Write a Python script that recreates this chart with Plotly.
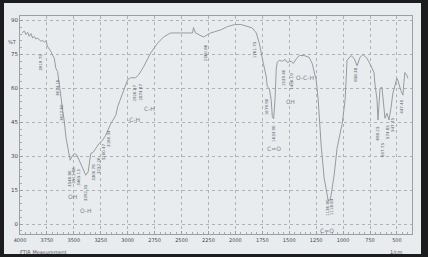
import plotly.graph_objects as go

# Spectrum trace (wavenumber cm-1, %T)
wavenumber = [3981, 3960, 3944, 3929, 3914, 3898, 3883, 3867, 3852, 3836, 3806, 3790, 3775, 3759,
              3744, 3728, 3713, 3682, 3667, 3651, 3636, 3620, 3605, 3590, 3574, 3552, 3534, 3519,
              3497, 3472, 3451, 3420, 3389, 3367, 3343, 3318, 3287, 3266, 3234, 3204, 3157, 3111,
              3093, 3046, 3000, 2972, 2926, 2898, 2852, 2787, 2722, 2667, 2602, 2509, 2398, 2389,
              2370, 2296, 2231, 2194, 2130, 2074, 2009, 1944, 1889, 1843, 1806, 1778, 1750, 1713,
              1704, 1685, 1667, 1657, 1645, 1632, 1620, 1611, 1593, 1565, 1537, 1519, 1481, 1463,
              1435, 1407, 1361, 1315, 1287, 1250, 1231, 1213, 1204, 1176, 1148, 1139, 1120, 1111,
              1083, 1056, 1019, 1009, 981, 972, 963, 926, 898, 870, 843, 815, 778, 741, 713, 704,
              685, 676, 667, 657, 639, 620, 611, 593, 574, 556, 537, 500, 491, 463, 444, 435, 426,
              407, 398]
transmittance = [84.6, 85.3, 83.8, 84.8, 83.0, 84.2, 82.3, 83.0, 81.8, 82.3, 80.8, 81.2, 80.5, 81.0,
                 78.5, 77.3, 76.3, 73.3, 68.9, 67.4, 63.0, 56.4, 50.5, 46.0, 38.5, 32.7, 28.2, 29.7,
                 31.2, 30.5, 28.2, 24.6, 21.6, 23.1, 31.2, 31.9, 34.4, 35.6, 37.0, 39.3, 44.4, 48.0,
                 51.9, 58.0, 63.9, 64.7, 64.7, 66.0, 69.6, 75.6, 80.0, 82.7, 84.5, 84.5, 84.5, 86.9,
                 84.5, 82.7, 84.5, 85.0, 86.0, 87.3, 88.2, 88.2, 87.4, 86.7, 84.5, 80.0, 73.3, 65.0,
                 60.7, 60.0, 54.7, 47.5, 46.5, 55.0, 69.0, 71.5, 72.4, 72.0, 72.8, 71.5, 72.0, 71.0,
                 73.0, 74.5, 74.5, 73.7, 71.0, 63.8, 55.0, 41.6, 35.0, 20.4, 11.5, 10.6, 10.6, 12.8,
                 21.6, 33.5, 42.0, 44.0, 55.0, 63.8, 72.4, 74.5, 73.3, 70.0, 73.7, 75.0, 73.3, 70.0,
                 67.0, 62.0, 55.0, 46.0, 55.0, 60.0, 60.5, 53.0, 46.8, 49.0, 46.0, 51.0, 58.0, 64.4,
                 63.5, 59.0, 57.0, 62.6, 67.0, 65.7, 64.4]

# Peak labels
peak_text = ["3919.75", "3674.16", "3627.60", "3548.80", "3511.86", "3465.13", "3392.35", "3300.78",
             "3252.26", "3200.47", "3160.34", "2926.87", "2874.87", "2360.86", "1761.75", "1679.90",
             "1633.90", "1539.40", "1456.19", "1136.80", "1118.84", "858.38", "698.25", "607.75",
             "574.85", "547.75", "447.40"]
peak_wn = [3806, 3657, 3620, 3546, 3500, 3463, 3389, 3324, 3278, 3222, 3185, 2935, 2880, 2278, 1815,
           1704, 1648, 1546, 1481, 1150, 1111, 880, 676, 639, 593, 546, 454]
peak_t = [71.7, 60.6, 49.5, 20.3, 21.7, 20.8, 14.0, 23.0, 26.0, 32.0, 38.0, 58.0, 58.4, 75.7, 77.0,
          51.8, 40.0, 64.6, 63.0, 7.5, 7.5, 66.0, 40.0, 32.7, 40.6, 43.8, 51.8]

# Handwritten group labels
group_text = ["O-H", "OH", "C-H", "-C-H", "C=O", "CH", "O-C-H", "C=O"]
group_wn = [3389, 3509, 2800, 2944, 1639, 1491, 1355, 1148]
group_t = [6.2, 12.4, 51.0, 46.4, 33.6, 54.0, 64.6, -3.0]

x_ticks = [4000, 3750, 3500, 3250, 3000, 2750, 2500, 2250, 2000, 1750, 1500, 1250, 1000, 750, 500]
y_ticks = [0, 15, 30, 45, 60, 75, 90]

fig = go.Figure()
fig.add_trace(go.Scatter(x=wavenumber, y=transmittance, mode="lines",
                         line=dict(color="#969ba0", width=1), hoverinfo="skip", showlegend=False))

W, H = 428, 257
ml, mr, mt, mb = 20, 16, 16, 23
pw, ph = W - ml - mr, H - mt - mb

def px(xp):
    return (xp - ml) / pw

def py(yp):
    return (H - mb - yp) / ph

shapes = [
    dict(type="rect", xref="paper", yref="paper", x0=px(4), x1=px(421), y0=py(254), y1=py(3),
         fillcolor="#e8ecef", line=dict(width=0), layer="below"),
]
annotations = []
for t, xw, yt in zip(peak_text, peak_wn, peak_t):
    annotations.append(dict(x=xw, y=yt, text=t, textangle=-90, showarrow=False,
                            font=dict(size=4, color="#5a5f66", family="DejaVu Sans")))
for t, xw, yt in zip(group_text, group_wn, group_t):
    annotations.append(dict(x=xw, y=yt, text=t, showarrow=False,
                            font=dict(size=6, color="#7f858c", family="DejaVu Sans")))
annotations += [
    dict(xref="paper", yref="paper", x=px(6), y=py(37), text="%T", showarrow=False,
         xanchor="left", font=dict(size=5, color="#555", family="DejaVu Sans")),
    dict(xref="paper", yref="paper", x=px(18), y=py(247), text="FTIR Measurement", showarrow=False,
         xanchor="left", yanchor="top", font=dict(size=5, color="#555", family="DejaVu Sans")),
    dict(xref="paper", yref="paper", x=px(405), y=py(247), text="1/cm", showarrow=False,
         yanchor="top", font=dict(size=5, color="#555", family="DejaVu Sans")),
]

fig.update_layout(
    width=W, height=H, margin=dict(l=ml, r=mr, t=mt, b=mb),
    paper_bgcolor="#1c1c1e", plot_bgcolor="rgba(0,0,0,0)",
    shapes=shapes, annotations=annotations,
    xaxis=dict(range=[4000, 360], tickvals=x_ticks, ticktext=[str(v) for v in x_ticks],
               showgrid=True, gridcolor="#adb3b9", griddash="dot", gridwidth=0.6,
               showline=True, linecolor="#9aa0a6", linewidth=1, mirror=True,
               ticks="inside", ticklen=3, tickcolor="#9aa0a6", ticklabelstandoff=1,
               minor=dict(dtick=50, ticks="inside", ticklen=2, tickcolor="#a5abb1"),
               tickfont=dict(size=5, color="#444", family="DejaVu Sans"), zeroline=False),
    yaxis=dict(range=[-4.4, 92], tickvals=y_ticks, showgrid=True, gridcolor="#adb3b9",
               griddash="dot", gridwidth=0.6, showline=True, linecolor="#9aa0a6", linewidth=1,
               mirror=True, ticks="inside", ticklen=3, tickcolor="#9aa0a6",
               minor=dict(dtick=3, ticks="inside", ticklen=2, tickcolor="#a5abb1"),
               tickfont=dict(size=5.5, color="#444", family="DejaVu Sans"), zeroline=False),
)
fig.write_html("out.html")
